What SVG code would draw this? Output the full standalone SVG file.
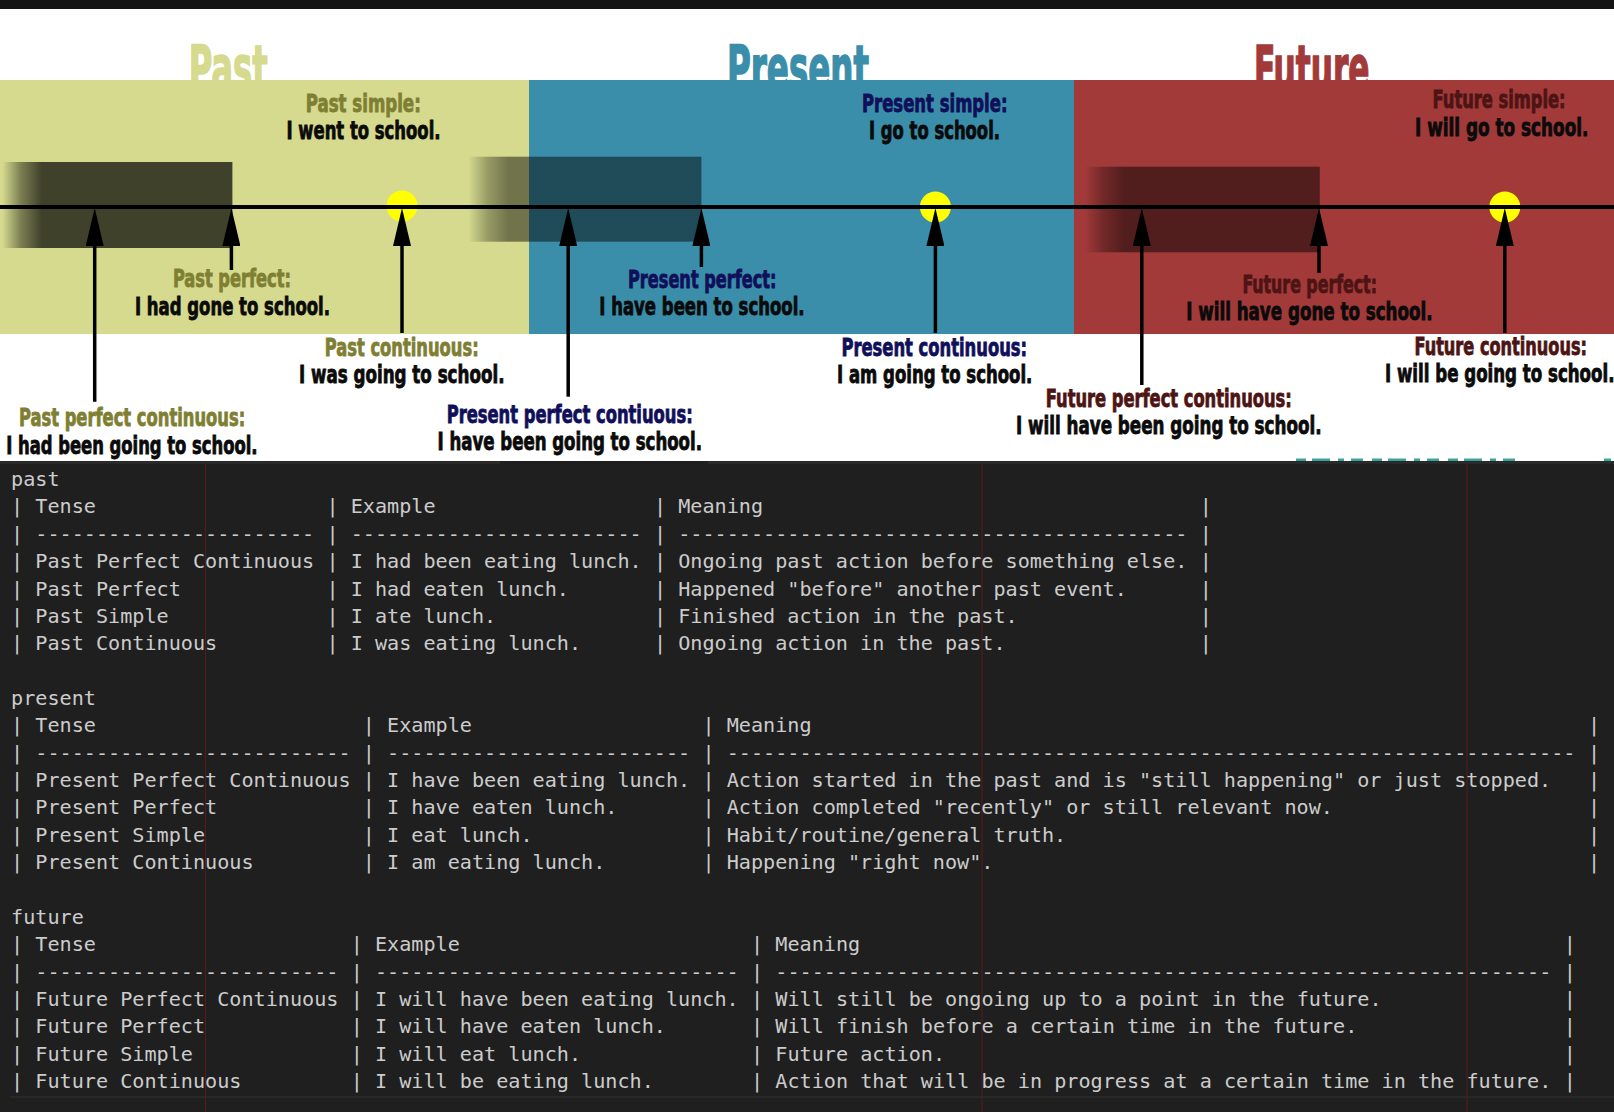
<svg xmlns="http://www.w3.org/2000/svg" width="1614" height="1112" viewBox="0 0 1614 1112">
<style>
.lbl{font-family:'DejaVu Sans Condensed','DejaVu Sans','Liberation Sans',sans-serif;font-weight:bold;font-size:24px;stroke-width:0.8}
.ttl{font-family:'DejaVu Sans Condensed','DejaVu Sans','Liberation Sans',sans-serif;font-weight:bold;font-size:62px;stroke-width:1.6}
.ex{fill:#0b0b0b;stroke:#0b0b0b}
.pa{fill:#7f7f33;stroke:#7f7f33}
.pr{fill:#10105a;stroke:#10105a}
.fu{fill:#4d1414;stroke:#4d1414}
.mono{font-family:'DejaVu Sans Mono','Liberation Mono',monospace;font-size:20.15px;fill:#cccccc}
.arr{stroke:#000;stroke-width:3.5;fill:none;marker-end:url(#head)}
.ruler{stroke:#5a1a1a;stroke-width:1}
.dot{fill:#ffff00}
</style>
<defs>
<marker id="head" markerUnits="userSpaceOnUse" markerWidth="38" markerHeight="18" viewBox="0 0 38 18" refX="0" refY="9" orient="auto">
<path d="M0,0 L38,9 L0,18 z" fill="#000"/>
</marker>
<linearGradient id="fade" x1="0" y1="0" x2="1" y2="0">
<stop offset="0.01" stop-color="#000" stop-opacity="0"/>
<stop offset="0.09" stop-color="#000" stop-opacity="0.6"/>
<stop offset="0.18" stop-color="#000" stop-opacity="1"/>
<stop offset="1" stop-color="#000" stop-opacity="1"/>
</linearGradient>
</defs>

<rect x="0" y="0" width="1614" height="1112" fill="#ffffff"/>
<rect x="0" y="0" width="1614" height="9" fill="#141414"/>

<g id="titles">
<text class="ttl" x="188.7" y="90" textLength="79" lengthAdjust="spacingAndGlyphs" fill="#d5da8e" stroke="#d5da8e">Past</text>
<text class="ttl" x="727" y="90" textLength="142" lengthAdjust="spacingAndGlyphs" fill="#3b8ea9" stroke="#3b8ea9">Present</text>
<text class="ttl" x="1254" y="90" textLength="115.5" lengthAdjust="spacingAndGlyphs" fill="#a33a3a" stroke="#a33a3a">Future</text>
</g>

<g id="bands">
<rect x="0" y="80" width="529" height="254" fill="#d5da8e"/>
<rect x="529" y="80" width="545" height="254" fill="#3b8ea9"/>
<rect x="1074" y="80" width="540" height="254" fill="#a33a3a"/>
</g>

<g id="spans">
<rect x="0" y="162" width="232.4" height="86" fill="url(#fade)" fill-opacity="0.7"/>
<rect x="466" y="156.7" width="235.4" height="85" fill="url(#fade)" fill-opacity="0.47"/>
<rect x="1082" y="166.7" width="237.8" height="85.6" fill="url(#fade)" fill-opacity="0.5"/>
</g>

<g id="dots">
<circle class="dot" cx="402" cy="206" r="15.5"/>
<circle class="dot" cx="935.4" cy="207" r="15.5"/>
<circle class="dot" cx="1504.8" cy="207" r="15.5"/>
</g>

<g id="timeline">
<line x1="0" y1="207" x2="1614" y2="207" stroke="#000" stroke-width="4"/>
</g>

<g id="connectors">
<line class="arr" x1="94.7" y1="401.7" x2="94.7" y2="246"/>
<line class="arr" x1="231.4" y1="270" x2="231.4" y2="246"/>
<line class="arr" x1="402" y1="333" x2="402" y2="246"/>
<line class="arr" x1="568.2" y1="396.7" x2="568.2" y2="246"/>
<line class="arr" x1="701.4" y1="267" x2="701.4" y2="246"/>
<line class="arr" x1="935.4" y1="333" x2="935.4" y2="246"/>
<line class="arr" x1="1141.8" y1="385" x2="1141.8" y2="246"/>
<line class="arr" x1="1319" y1="273" x2="1319" y2="246"/>
<line class="arr" x1="1504.8" y1="333" x2="1504.8" y2="246"/>
</g>

<g id="past-simple">
<text class="lbl pa" x="305.8" y="111.5" textLength="115" lengthAdjust="spacingAndGlyphs">Past simple:</text>
<text class="lbl ex" x="286.5" y="139.3" textLength="154" lengthAdjust="spacingAndGlyphs">I went to school.</text>
</g>
<g id="past-perfect">
<text class="lbl pa" x="172.9" y="287" textLength="118" lengthAdjust="spacingAndGlyphs">Past perfect:</text>
<text class="lbl ex" x="135" y="315" textLength="195" lengthAdjust="spacingAndGlyphs">I had gone to school.</text>
</g>
<g id="past-continuous">
<text class="lbl pa" x="324.7" y="356" textLength="154" lengthAdjust="spacingAndGlyphs">Past continuous:</text>
<text class="lbl ex" x="298.9" y="383" textLength="205.6" lengthAdjust="spacingAndGlyphs">I was going to school.</text>
</g>
<g id="past-perfect-continuous">
<text class="lbl pa" x="18.9" y="426" textLength="226.3" lengthAdjust="spacingAndGlyphs">Past perfect continuous:</text>
<text class="lbl ex" x="6.2" y="453.5" textLength="251.4" lengthAdjust="spacingAndGlyphs">I had been going to school.</text>
</g>

<g id="present-simple">
<text class="lbl pr" x="862" y="111.5" textLength="145.5" lengthAdjust="spacingAndGlyphs">Present simple:</text>
<text class="lbl ex" x="869" y="139.3" textLength="131" lengthAdjust="spacingAndGlyphs">I go to school.</text>
</g>
<g id="present-perfect">
<text class="lbl pr" x="628" y="288" textLength="148.5" lengthAdjust="spacingAndGlyphs">Present perfect:</text>
<text class="lbl ex" x="599.3" y="315" textLength="205.3" lengthAdjust="spacingAndGlyphs">I have been to school.</text>
</g>
<g id="present-continuous">
<text class="lbl pr" x="841.4" y="356" textLength="185.7" lengthAdjust="spacingAndGlyphs">Present continuous:</text>
<text class="lbl ex" x="837" y="383" textLength="195.4" lengthAdjust="spacingAndGlyphs">I am going to school.</text>
</g>
<g id="present-perfect-continuous">
<text class="lbl pr" x="446.7" y="423" textLength="246" lengthAdjust="spacingAndGlyphs">Present perfect contiuous:</text>
<text class="lbl ex" x="437.5" y="450" textLength="264.5" lengthAdjust="spacingAndGlyphs">I have been going to school.</text>
</g>

<g id="future-simple">
<text class="lbl fu" x="1432.6" y="108.3" textLength="133" lengthAdjust="spacingAndGlyphs">Future simple:</text>
<text class="lbl ex" x="1415" y="136" textLength="173.5" lengthAdjust="spacingAndGlyphs">I will go to school.</text>
</g>
<g id="future-perfect">
<text class="lbl fu" x="1242.4" y="293" textLength="134.6" lengthAdjust="spacingAndGlyphs">Future perfect:</text>
<text class="lbl ex" x="1186.2" y="320" textLength="246.4" lengthAdjust="spacingAndGlyphs">I will have gone to school.</text>
</g>
<g id="future-continuous">
<text class="lbl fu" x="1414.5" y="355" textLength="172.5" lengthAdjust="spacingAndGlyphs">Future continuous:</text>
<text class="lbl ex" x="1385" y="382" textLength="229.5" lengthAdjust="spacingAndGlyphs">I will be going to school.</text>
</g>
<g id="future-perfect-continuous">
<text class="lbl fu" x="1045.8" y="406.5" textLength="246" lengthAdjust="spacingAndGlyphs">Future perfect continuous:</text>
<text class="lbl ex" x="1016" y="433.5" textLength="305.5" lengthAdjust="spacingAndGlyphs">I will have been going to school.</text>
</g>

<g id="editor">
<rect x="0" y="461" width="1614" height="651" fill="#1f1f1f"/>
<line x1="0" y1="462.5" x2="500" y2="462.5" stroke="#2e2e2e" stroke-width="2"/>
<line x1="708" y1="462.5" x2="1614" y2="462.5" stroke="#2e2e2e" stroke-width="2"/>
<line x1="1296" y1="459.8" x2="1520" y2="459.8" stroke="#3aa39c" stroke-width="2.5" stroke-dasharray="10 6 18 8 6 7 12 9"/>
<line x1="1604" y1="459.8" x2="1611" y2="459.8" stroke="#3aa39c" stroke-width="2.5"/>
<line class="ruler" x1="205.5" y1="463" x2="205.5" y2="1112"/>
<line class="ruler" x1="982" y1="463" x2="982" y2="1112"/>
<line class="ruler" x1="1467" y1="463" x2="1467" y2="1112"/>
<line x1="10" y1="1097" x2="1614" y2="1097" stroke="#2c2c2c" stroke-width="1.5"/>
</g>

<g id="table-past" class="mono">
<text x="11" y="486">past</text>
<text y="513.4"><tspan x="11">|</tspan><tspan x="35.3">Tense</tspan><tspan x="326.4">|</tspan><tspan x="350.7">Example</tspan><tspan x="653.9">|</tspan><tspan x="678.2">Meaning</tspan><tspan x="1199.8">|</tspan></text>
<text y="540.7"><tspan x="11">|</tspan><tspan x="35.3">-----------------------</tspan><tspan x="326.4">|</tspan><tspan x="350.7">------------------------</tspan><tspan x="653.9">|</tspan><tspan x="678.2">------------------------------------------</tspan><tspan x="1199.8">|</tspan></text>
<text y="568.1"><tspan x="11">|</tspan><tspan x="35.3">Past Perfect Continuous</tspan><tspan x="326.4">|</tspan><tspan x="350.7">I had been eating lunch.</tspan><tspan x="653.9">|</tspan><tspan x="678.2">Ongoing past action before something else.</tspan><tspan x="1199.8">|</tspan></text>
<text y="595.5"><tspan x="11">|</tspan><tspan x="35.3">Past Perfect</tspan><tspan x="326.4">|</tspan><tspan x="350.7">I had eaten lunch.</tspan><tspan x="653.9">|</tspan><tspan x="678.2">Happened "before" another past event.</tspan><tspan x="1199.8">|</tspan></text>
<text y="622.9"><tspan x="11">|</tspan><tspan x="35.3">Past Simple</tspan><tspan x="326.4">|</tspan><tspan x="350.7">I ate lunch.</tspan><tspan x="653.9">|</tspan><tspan x="678.2">Finished action in the past.</tspan><tspan x="1199.8">|</tspan></text>
<text y="650.2"><tspan x="11">|</tspan><tspan x="35.3">Past Continuous</tspan><tspan x="326.4">|</tspan><tspan x="350.7">I was eating lunch.</tspan><tspan x="653.9">|</tspan><tspan x="678.2">Ongoing action in the past.</tspan><tspan x="1199.8">|</tspan></text>
</g>

<g id="table-present" class="mono">
<text x="11" y="705">present</text>
<text y="732.3"><tspan x="11">|</tspan><tspan x="35.3">Tense</tspan><tspan x="362.8">|</tspan><tspan x="387.1">Example</tspan><tspan x="702.5">|</tspan><tspan x="726.7">Meaning</tspan><tspan x="1588">|</tspan></text>
<text y="759.7"><tspan x="11">|</tspan><tspan x="35.3">--------------------------</tspan><tspan x="362.8">|</tspan><tspan x="387.1">-------------------------</tspan><tspan x="702.5">|</tspan><tspan x="726.7">----------------------------------------------------------------------</tspan><tspan x="1588">|</tspan></text>
<text y="787.1"><tspan x="11">|</tspan><tspan x="35.3">Present Perfect Continuous</tspan><tspan x="362.8">|</tspan><tspan x="387.1">I have been eating lunch.</tspan><tspan x="702.5">|</tspan><tspan x="726.7">Action started in the past and is "still happening" or just stopped.</tspan><tspan x="1588">|</tspan></text>
<text y="814.4"><tspan x="11">|</tspan><tspan x="35.3">Present Perfect</tspan><tspan x="362.8">|</tspan><tspan x="387.1">I have eaten lunch.</tspan><tspan x="702.5">|</tspan><tspan x="726.7">Action completed "recently" or still relevant now.</tspan><tspan x="1588">|</tspan></text>
<text y="841.8"><tspan x="11">|</tspan><tspan x="35.3">Present Simple</tspan><tspan x="362.8">|</tspan><tspan x="387.1">I eat lunch.</tspan><tspan x="702.5">|</tspan><tspan x="726.7">Habit/routine/general truth.</tspan><tspan x="1588">|</tspan></text>
<text y="869.2"><tspan x="11">|</tspan><tspan x="35.3">Present Continuous</tspan><tspan x="362.8">|</tspan><tspan x="387.1">I am eating lunch.</tspan><tspan x="702.5">|</tspan><tspan x="726.7">Happening "right now".</tspan><tspan x="1588">|</tspan></text>
</g>

<g id="table-future" class="mono">
<text x="11" y="923.9">future</text>
<text y="951.3"><tspan x="11">|</tspan><tspan x="35.3">Tense</tspan><tspan x="350.7">|</tspan><tspan x="374.9">Example</tspan><tspan x="751">|</tspan><tspan x="775.3">Meaning</tspan><tspan x="1563.8">|</tspan></text>
<text y="978.7"><tspan x="11">|</tspan><tspan x="35.3">-------------------------</tspan><tspan x="350.7">|</tspan><tspan x="374.9">------------------------------</tspan><tspan x="751">|</tspan><tspan x="775.3">----------------------------------------------------------------</tspan><tspan x="1563.8">|</tspan></text>
<text y="1006"><tspan x="11">|</tspan><tspan x="35.3">Future Perfect Continuous</tspan><tspan x="350.7">|</tspan><tspan x="374.9">I will have been eating lunch.</tspan><tspan x="751">|</tspan><tspan x="775.3">Will still be ongoing up to a point in the future.</tspan><tspan x="1563.8">|</tspan></text>
<text y="1033.4"><tspan x="11">|</tspan><tspan x="35.3">Future Perfect</tspan><tspan x="350.7">|</tspan><tspan x="374.9">I will have eaten lunch.</tspan><tspan x="751">|</tspan><tspan x="775.3">Will finish before a certain time in the future.</tspan><tspan x="1563.8">|</tspan></text>
<text y="1060.8"><tspan x="11">|</tspan><tspan x="35.3">Future Simple</tspan><tspan x="350.7">|</tspan><tspan x="374.9">I will eat lunch.</tspan><tspan x="751">|</tspan><tspan x="775.3">Future action.</tspan><tspan x="1563.8">|</tspan></text>
<text y="1088.1"><tspan x="11">|</tspan><tspan x="35.3">Future Continuous</tspan><tspan x="350.7">|</tspan><tspan x="374.9">I will be eating lunch.</tspan><tspan x="751">|</tspan><tspan x="775.3">Action that will be in progress at a certain time in the future.</tspan><tspan x="1563.8">|</tspan></text>
</g>
</svg>
